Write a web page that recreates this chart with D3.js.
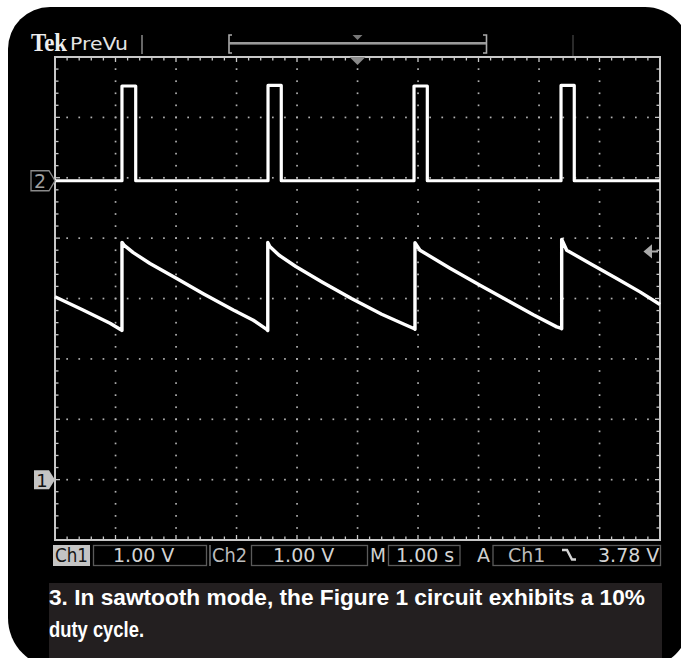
<!DOCTYPE html>
<html><head><meta charset="utf-8">
<script src="https://cdn.jsdelivr.net/npm/d3@7"></script>
<style>html,body{margin:0;padding:0;background:#fff;}svg{display:block}</style>
</head><body>
<svg id="c" width="681" height="658"></svg>
<script>
// ---- data (time in s, volts) ----
const ch1Time  = [-5.00,-4.537,-4.09,-3.897,-3.893,-3.893,-3.860,-3.706,-3.430,-2.988,-2.549,-2.053,-1.722,-1.501,-1.483,-1.483,-1.450,-1.300,-1.020,-0.580,-0.100,0.400,0.780,0.940,0.950,0.950,1.033,1.529,2.025,2.466,2.906,3.293,3.359,3.375,3.375,3.458,3.843,4.284,4.669,5.00];
const ch1Volts = [3.03, 2.81, 2.59, 2.475, 2.47, 3.93, 3.885, 3.76, 3.58, 3.33, 3.08, 2.81, 2.64, 2.49, 2.47, 3.93, 3.86, 3.72, 3.53, 3.27, 3.00, 2.74, 2.57, 2.50, 2.49, 3.925, 3.80, 3.50, 3.22, 2.975, 2.73, 2.53, 2.51, 2.50, 3.98, 3.80, 3.58, 3.33, 3.11, 2.90];
const ch2Time  = [-5.00,-3.893,-3.893,-3.666,-3.666,-1.479,-1.479,-1.260,-1.260,0.934,0.934,1.154,1.154,3.364,3.364,3.583,3.583,5.00];
const ch2Volts = [0, 0, 1.57, 1.57, 0, 0, 1.58, 1.58, 0, 0, 1.57, 1.57, 0, 0, 1.58, 1.58, 0, 0];
const ch1OffsetDiv = -3, ch2OffsetDiv = 1.95, voltsPerDiv = 1.0;
const triggerLevel = 3.78;
const statusTexts = ["Ch1", "1.00 V", "Ch2", "1.00 V", "M", "1.00 s", "A", "Ch1", "3.78 V"];
const headerTexts = ["Tek", "PreVu"];
const captionLines = ["3. In sawtooth mode, the Figure 1 circuit exhibits a 10%", "duty cycle."];

// ---- drawing ----
const svg = d3.select("#c");
const x = d3.scaleLinear().domain([-5, 5]).range([55, 660]);
const y = d3.scaleLinear().domain([-4, 4]).range([540, 57]);

// outer black rounded frame
(function(){
  const x0=8,y0=7,x1=690,y1=668, a=42,b=45,c=48,d=50;
  const p=`M${x0+a},${y0} H${x1-b} A${b},${b} 0 0 1 ${x1},${y0+b} V${y1-c} A${c},${c} 0 0 1 ${x1-c},${y1} H${x0+d} A${d},${d} 0 0 1 ${x0},${y1-d} V${y0+a} A${a},${a} 0 0 1 ${x0+a},${y0} Z`;
  svg.append("path").attr("d",p).attr("fill","#000");
})();

// grid dots
const gGrid = svg.append("g").attr("fill","#b0b0b0");
const fine = d3.range(-3.8, 3.81, 0.2);
const fineX = d3.range(-4.8, 4.81, 0.2);
d3.range(-4, 5).forEach(k => {
  gGrid.selectAll(null).data(fine).join("rect")
    .attr("x", x(k) - 0.8).attr("y", d => y(d) - 0.8).attr("width", 1.7).attr("height", 1.7);
});
d3.range(-3, 4).forEach(k => {
  gGrid.selectAll(null).data(fineX).join("rect")
    .attr("x", d => x(d) - 0.8).attr("y", y(k) - 0.8).attr("width", 1.7).attr("height", 1.7);
});

// border + ticks
const gB = svg.append("g").attr("stroke","#c8c8c8");
gB.append("rect").attr("x", x(-5)).attr("y", y(4)).attr("width", x(5)-x(-5)).attr("height", y(-4)-y(4))
  .attr("fill","none").attr("stroke-width",2);
const tx = d3.range(-4.8, 4.81, 0.2);
const ty = d3.range(-3.8, 3.81, 0.2);
const isMaj = v => Math.abs(v - Math.round(v)) < 1e-6;
gB.selectAll(null).data(tx).join("line").attr("stroke-width",1.3)
  .attr("x1", d=>x(d)).attr("x2", d=>x(d)).attr("y1", y(4)).attr("y2", d=>y(4)+(isMaj(d)?5:3.5));
gB.selectAll(null).data(tx).join("line").attr("stroke-width",1.3)
  .attr("x1", d=>x(d)).attr("x2", d=>x(d)).attr("y1", y(-4)).attr("y2", d=>y(-4)-(isMaj(d)?5:3.5));
gB.selectAll(null).data(ty).join("line").attr("stroke-width",1.3)
  .attr("y1", d=>y(d)).attr("y2", d=>y(d)).attr("x1", x(-5)).attr("x2", d=>x(-5)+(isMaj(d)?5:3.5));
gB.selectAll(null).data(ty).join("line").attr("stroke-width",1.3)
  .attr("y1", d=>y(d)).attr("y2", d=>y(d)).attr("x1", x(5)).attr("x2", d=>x(5)-(isMaj(d)?5:3.5));

// traces
const ch1 = ch1Time.map((t,i)=>({t, v: ch1Volts[i]}));
const ch2 = ch2Time.map((t,i)=>({t, v: ch2Volts[i]}));
const line1 = d3.line().x(d=>x(d.t)).y(d=>y(d.v/voltsPerDiv + ch1OffsetDiv));
const line2 = d3.line().x(d=>x(d.t)).y(d=>y(d.v/voltsPerDiv + ch2OffsetDiv));
svg.append("path").attr("d", line2(ch2)).attr("fill","none").attr("stroke","#fff")
  .attr("stroke-width",3.2).attr("stroke-linejoin","round");
svg.append("path").attr("d", line1(ch1)).attr("fill","none").attr("stroke","#fff")
  .attr("stroke-width",3.4).attr("stroke-linejoin","round");

// channel ground markers
(function(){
  const y2 = y(ch2OffsetDiv), y1 = y(ch1OffsetDiv);
  svg.append("path").attr("d", `M31,${y2-10} H49 L55,${y2} L49,${y2+10} H31 Z`)
    .attr("fill","#000").attr("stroke","#8a8a8a").attr("stroke-width",1.3);
  svg.append("text").attr("x",40).attr("y",y2+7).attr("text-anchor","middle")
    .attr("font-family","DejaVu Sans").attr("font-size",19).attr("fill","#a0a0a0").text("2");
  svg.append("path").attr("d", `M34,${y1-9.5} H49 L55,${y1} L49,${y1+9.5} H34 Z`)
    .attr("fill","#c4c4c4");
  svg.append("text").attr("x",42).attr("y",y1+7).attr("text-anchor","middle")
    .attr("font-family","DejaVu Sans").attr("font-size",18).attr("fill","#111").text("1");
  // trigger level arrow on right edge
  const yt = y(triggerLevel/voltsPerDiv + ch1OffsetDiv);
  svg.append("path").attr("d", `M645,${yt} L651,${yt-5} L651,${yt+5} Z M650,${yt} H658`)
    .attr("fill","#aaa").attr("stroke","#aaa").attr("stroke-width",2);
  // trigger position triangle at top of plot
  svg.append("path").attr("d", `M${x(0)-8},${y(4)} H${x(0)+8} L${x(0)},${y(4)+8} Z`).attr("fill","#8a8a8a");
})();

// header
svg.append("text").attr("x",31).attr("y",51).attr("font-family","Liberation Serif").attr("font-weight","bold")
  .attr("font-size",25).attr("fill","#eee").attr("textLength",36).attr("lengthAdjust","spacingAndGlyphs").text(headerTexts[0]);
svg.append("text").attr("x",70).attr("y",50).attr("font-family","DejaVu Sans")
  .attr("font-size",18).attr("fill","#e4e4e4").attr("textLength",58).attr("lengthAdjust","spacingAndGlyphs").text(headerTexts[1]);
svg.append("line").attr("x1",142).attr("x2",142).attr("y1",35).attr("y2",54).attr("stroke","#8a8a8a").attr("stroke-width",1.5);
svg.append("path").attr("d","M232,35 H229 V53 H232 M483,35 H486.5 V53 H483")
  .attr("fill","none").attr("stroke","#aaa").attr("stroke-width",1.6);
svg.append("rect").attr("x",229).attr("y",42).attr("width",257).attr("height",2.6).attr("fill","#9a9a9a");
svg.append("path").attr("d",`M${x(0)-5},35 H${x(0)+5} L${x(0)},40 Z`).attr("fill","#777");
svg.append("line").attr("x1",573).attr("x2",573).attr("y1",35).attr("y2",56).attr("stroke","#555").attr("stroke-width",1);

// status bar
const sb = svg.append("g").attr("font-family","DejaVu Sans").attr("font-size",19);
const by = 562;
sb.append("rect").attr("x",53).attr("y",545).attr("width",37).attr("height",21).attr("fill","#c4c4c4");
sb.append("text").attr("x",55).attr("y",by).attr("fill","#151515").attr("textLength",33).attr("lengthAdjust","spacingAndGlyphs").text(statusTexts[0]);
sb.append("rect").attr("x",93.5).attr("y",545.5).attr("width",113).attr("height",20).attr("fill","none").attr("stroke","#5a5a5a").attr("stroke-width",1.3);
sb.append("text").attr("x",113).attr("y",by).attr("fill","#d4d4d4").text(statusTexts[1]);
sb.append("line").attr("x1",210).attr("x2",210).attr("y1",545).attr("y2",566).attr("stroke","#8a8a8a").attr("stroke-width",1.3);
sb.append("text").attr("x",212).attr("y",by).attr("fill","#bdbdbd").attr("textLength",35).attr("lengthAdjust","spacingAndGlyphs").text(statusTexts[2]);
sb.append("rect").attr("x",251.5).attr("y",545.5).attr("width",116).attr("height",20).attr("fill","none").attr("stroke","#5a5a5a").attr("stroke-width",1.3);
sb.append("text").attr("x",273).attr("y",by).attr("fill","#d4d4d4").text(statusTexts[3]);
sb.append("text").attr("x",370).attr("y",by).attr("fill","#cfcfcf").attr("textLength",16).attr("lengthAdjust","spacingAndGlyphs").text(statusTexts[4]);
sb.append("rect").attr("x",388.5).attr("y",545.5).attr("width",71.5).attr("height",20).attr("fill","none").attr("stroke","#5a5a5a").attr("stroke-width",1.3);
sb.append("text").attr("x",396).attr("y",by).attr("fill","#d4d4d4").text(statusTexts[5]);
sb.append("text").attr("x",477).attr("y",by).attr("fill","#cfcfcf").text(statusTexts[6]);
sb.append("rect").attr("x",493).attr("y",545.5).attr("width",167.5).attr("height",20).attr("fill","none").attr("stroke","#5a5a5a").attr("stroke-width",1.3);
sb.append("text").attr("x",508).attr("y",by).attr("fill","#bdbdbd").text(statusTexts[7]);
sb.append("path").attr("d","M562,550 H567 L572,559.5 H576").attr("fill","none").attr("stroke","#d4d4d4").attr("stroke-width",2.4);
sb.append("text").attr("x",598).attr("y",by).attr("fill","#d4d4d4").text(statusTexts[8]);

// caption
svg.append("rect").attr("x",49).attr("y",583).attr("width",613).attr("height",80).attr("fill","#231f20");
const cap = svg.append("g").attr("font-family","Liberation Sans").attr("font-weight","bold").attr("font-size",22).attr("fill","#fff");
cap.append("text").attr("x",49).attr("y",605).attr("textLength",596).attr("lengthAdjust","spacingAndGlyphs").text(captionLines[0]);
cap.append("text").attr("x",49).attr("y",637).attr("textLength",95).attr("lengthAdjust","spacingAndGlyphs").text(captionLines[1]);
</script>
</body></html>
